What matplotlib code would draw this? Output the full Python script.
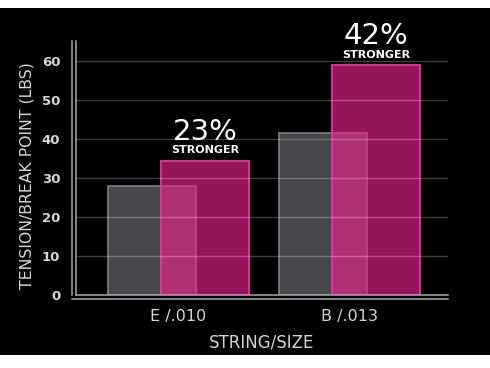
import numpy as np
import matplotlib
matplotlib.use("Agg")
import matplotlib.pyplot as plt
import matplotlib.transforms as mtransforms
from matplotlib.lines import Line2D
from matplotlib.patches import Rectangle

# data
strings = ['E /.010', 'B /.013']
standard = [28, 41.5]
stronger = [34.5, 59]
gain_labels = ['23%', '42%']
yticks = [0, 10, 20, 30, 40, 50, 60]

FONT = 'DejaVu Sans'
TXT = '#d6d6d6'

fig = plt.figure(figsize=(4.9, 3.68), dpi=100, facecolor='white')
# black panel with white strips top and bottom
fig.patches.append(Rectangle((0, 13 / 368), 1, (355 - 8) / 368, transform=fig.transFigure,
                             facecolor='black', edgecolor='none', zorder=-10))

ax = fig.add_axes([75.7 / 490, 72.7 / 368, (448 - 75.7) / 490, (295.3 - 41) / 368])
ax.set_facecolor('none')

x = np.arange(len(strings))
w = 0.51
off = 0.155

ax.bar(x - off, standard, width=w, color='#48484c', edgecolor='#808080', linewidth=1.2, zorder=2)
ax.bar(x + off, stronger, width=w, color='#ed2193', alpha=0.64, edgecolor='none', zorder=3)
ax.bar(x + off, stronger, width=w, color='none', edgecolor='#e8369c', linewidth=1.3, zorder=4)

for xi, v, lab in zip(x + off, stronger, gain_labels):
    ax.annotate('STRONGER', (xi, v), xytext=(0, 5.2), textcoords='offset points',
                ha='center', va='baseline', color='white', fontsize=8, fontweight='bold',
                family=FONT, zorder=6)
    ax.annotate(lab, (xi, v), xytext=(0, 14.8), textcoords='offset points',
                ha='center', va='baseline', color='white', fontsize=21, family=FONT, zorder=6)

ax.set_xlim(-0.601, 1.576)
ax.set_ylim(0, 65.1)
ax.set_yticks(yticks)
ax.set_xticks(x)
ax.set_xticklabels(strings)

for t in yticks[1:]:
    ax.axhline(t, color='white', alpha=0.25, linewidth=1, zorder=5)

for s in ['top', 'right']:
    ax.spines[s].set_visible(False)
for s in ['left', 'bottom']:
    ax.spines[s].set_color('#a8a8a8')
    ax.spines[s].set_linewidth(1.1)
    ax.spines[s].set_zorder(6)

# outer line of the double axis
ax.add_line(Line2D([0, 0], [0, 1], transform=mtransforms.offset_copy(ax.transAxes, fig=fig, x=-3.5, y=0, units='dots'),
                   color='#a8a8a8', linewidth=1.1, clip_on=False))
ax.add_line(Line2D([-0.01, 1], [0, 0], transform=mtransforms.offset_copy(ax.transAxes, fig=fig, x=0, y=-3.5, units='dots'),
                   color='#a8a8a8', linewidth=1.1, clip_on=False))

ax.tick_params(axis='y', length=0, pad=11, labelsize=9.5, labelcolor=TXT)
ax.tick_params(axis='x', length=0, pad=10, labelsize=11.5, labelcolor=TXT)
for lab in ax.get_yticklabels():
    lab.set_fontweight('bold')
    lab.set_family(FONT)
for lab in ax.get_xticklabels():
    lab.set_family(FONT)

ax.set_xlabel('STRING/SIZE', color=TXT, fontsize=12, family=FONT, labelpad=7)
fig.text(27 / 490, (368 - 176) / 368, 'TENSION/BREAK POINT (LBS)', rotation=90, ha='center', va='center',
         color=TXT, fontsize=11.3, family=FONT)

fig.savefig('out.png', dpi=100, facecolor='white')
